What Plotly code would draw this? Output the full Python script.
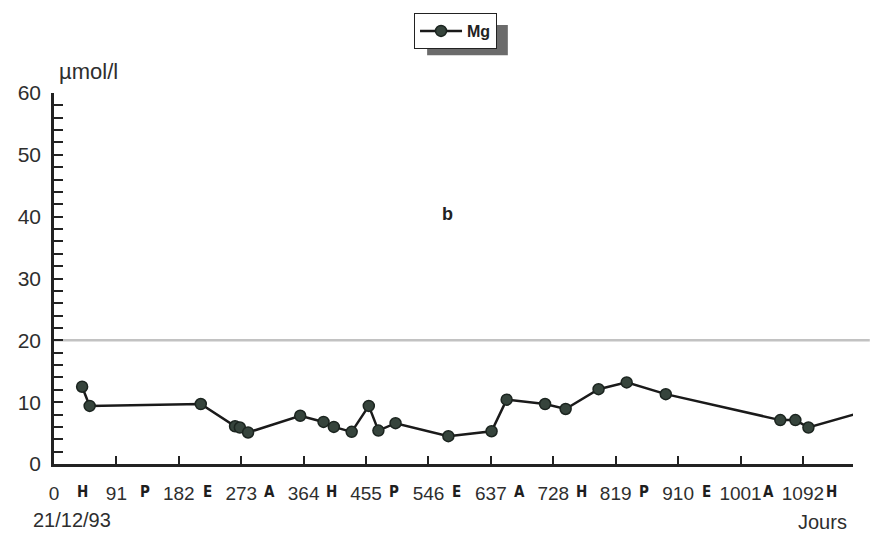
import plotly.graph_objects as go

# ---- data ----
days = [41, 52, 214, 264, 271, 283, 359, 393, 408, 434, 459, 473, 498, 575,
        638, 660, 716, 746, 794, 835, 892, 1059, 1081, 1100, 1166]
mg = [12.5, 9.4, 9.7, 6.1, 5.9, 5.1, 7.8, 6.8, 6.0, 5.2, 9.4, 5.4, 6.6, 4.5,
      5.3, 10.4, 9.7, 8.9, 12.1, 13.2, 11.3, 7.1, 7.1, 5.9, 8.0]
x_ticks = [0, 91, 182, 273, 364, 455, 546, 637, 728, 819, 910, 1001, 1092]
x_tick_labels = [str(v) for v in x_ticks]
seasons = ["H", "P", "E", "A", "H", "P", "E", "A", "H", "P", "E", "A", "H"]
ref_level = 20
y_ticks = [0, 10, 20, 30, 40, 50, 60]

FONT = "Liberation Sans, Arial, sans-serif"
NARROW = "Liberation Sans Narrow, DejaVu Sans Condensed, Arial Narrow, sans-serif"
TXT = "#2e2e2e"

fig = go.Figure()
fig.add_trace(go.Scatter(
    x=days, y=mg, mode="lines+markers", name="<b>Mg</b>",
    line=dict(color="#1a1a1a", width=2.5),
    marker=dict(size=11, color="#36443c", line=dict(color="#1b241f", width=1.5)),
    cliponaxis=False,
))

# reference line at 20
fig.add_shape(type="line", xref="x domain", yref="y", x0=0, x1=1.021,
              y0=ref_level, y1=ref_level,
              line=dict(color="#c2c2c2", width=2.5), layer="below")

# legend shadow
fig.add_shape(type="rect", xref="paper", yref="paper",
              x0=0.467, x1=0.568, y0=1.102, y1=1.183,
              fillcolor="#6b6b6b", line=dict(width=0), layer="below")

# season letters between ticks
step = x_ticks[1] - x_ticks[0]
for i, s in enumerate(seasons):
    fig.add_annotation(x=x_ticks[i] + step / 2, y=0, xref="x", yref="y",
                       text="<b>" + s + "</b>", showarrow=False,
                       xshift=-3, yshift=-28, yanchor="middle",
                       font=dict(family=NARROW, size=15, color="#1e1e1e"))

fig.add_annotation(x=0.004, y=1.057, xref="paper", yref="paper", text="µmol/l",
                   showarrow=False, xanchor="left", yanchor="middle",
                   font=dict(family=FONT, size=22, color=TXT))
fig.add_annotation(x=0.492, y=0.706, xref="paper", yref="paper", text="<b>b</b>",
                   showarrow=False, font=dict(family=FONT, size=18, color="#222"))
fig.add_annotation(x=0.023, y=-0.152, xref="paper", yref="paper", text="21/12/93",
                   showarrow=False, xanchor="center", yanchor="middle",
                   font=dict(family=FONT, size=20, color=TXT))
fig.add_annotation(x=0.962, y=-0.157, xref="paper", yref="paper", text="Jours",
                   showarrow=False, xanchor="center", yanchor="middle",
                   font=dict(family=FONT, size=20, color=TXT))

fig.update_layout(
    width=876, height=535,
    margin=dict(l=54, r=23, t=93, b=71),
    paper_bgcolor="white", plot_bgcolor="white",
    font=dict(family=FONT, color=TXT),
    showlegend=True,
    legend=dict(x=0.4506, y=1.2156, xanchor="left", yanchor="top",
                bgcolor="white", bordercolor="#222", borderwidth=1,
                itemwidth=42,
                font=dict(family=FONT, size=16, color="#222")),
    xaxis=dict(range=[0, 1165], tickvals=x_ticks, ticktext=x_tick_labels,
               ticks="inside", ticklen=8, tickwidth=1.5, tickcolor="#222",
               showline=True, linecolor="#222", linewidth=2.5,
               showgrid=False, zeroline=False,
               tickfont=dict(family=FONT, size=19, color=TXT),
               ticklabelstandoff=10),
    yaxis=dict(range=[0, 60], tickvals=y_ticks,
               ticks="inside", ticklen=9, tickwidth=1.5, tickcolor="#222",
               minor=dict(dtick=2, ticks="inside", ticklen=9, tickwidth=1.5,
                          tickcolor="#222"),
               showline=True, linecolor="#222", linewidth=2.5,
               showgrid=False, zeroline=False,
               tickfont=dict(family=FONT, size=21, color=TXT),
               ticklabelstandoff=6),
)

fig.write_html("out.html", config={"displayModeBar": False},
               post_script="document.body.style.margin='0px';")
